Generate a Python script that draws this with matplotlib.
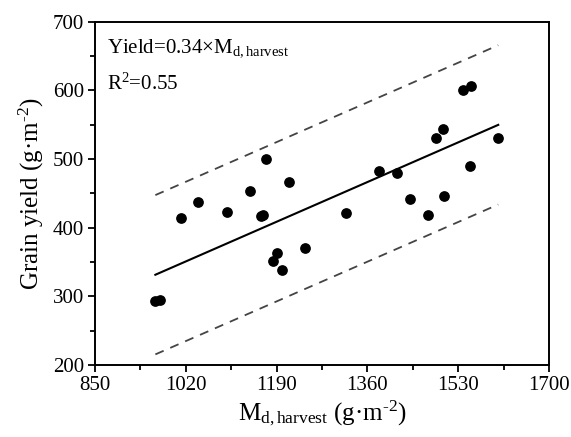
import matplotlib
matplotlib.use("Agg")
import matplotlib.pyplot as plt
import numpy as np
from matplotlib.ticker import MultipleLocator

# Data
m_harvest = [963, 972, 1011, 1042, 1098, 1141, 1161, 1165, 1171, 1213, 1191, 1183,
             1201, 1243, 1320, 1381, 1416, 1439, 1473, 1489, 1501, 1503, 1539, 1554,
             1552, 1605]
grain_yield = [293, 295, 414, 437, 423, 454, 417, 418, 500, 467, 363, 352,
               338, 370, 422, 482, 479, 442, 418, 530, 544, 446, 601, 607,
               490, 530]
slope = 0.34
intercept = 4      # as drawn in the reference
band = 116         # prediction band half-width (g m-2)
x_ticks = [850, 1020, 1190, 1360, 1530, 1700]
y_ticks = [200, 300, 400, 500, 600, 700]

plt.rcParams['font.family'] = ['Liberation Serif', 'DejaVu Serif']
plt.rcParams['mathtext.fontset'] = 'custom'
plt.rcParams['mathtext.rm'] = 'Liberation Serif'
plt.rcParams['mathtext.it'] = 'Liberation Serif:italic'

fig = plt.figure(figsize=(5.71, 4.37), dpi=100)
ax = fig.add_axes([0.1664, 0.1648, 0.795, 0.7856])

x = np.array(m_harvest)
y = np.array(grain_yield)
xl = np.array([x.min(), x.max()])
fit = slope * xl + intercept
ax.plot(xl, fit, color='black', lw=1.5)
ax.plot(xl, fit + band, color='#444444', lw=1.3, ls=(0, (5, 4)))
ax.plot(xl, fit - band, color='#444444', lw=1.3, ls=(0, (5, 4)))
ax.scatter(x, y, s=45, color='black', zorder=3)

ax.set_xlim(850, 1700)
ax.set_ylim(200, 700)
ax.set_xticks(x_ticks)
ax.set_yticks(y_ticks)
ax.xaxis.set_minor_locator(MultipleLocator(85))
ax.yaxis.set_minor_locator(MultipleLocator(50))
ax.tick_params(which='major', direction='out', length=5, width=1.3, labelsize=15, pad=3)
ax.tick_params(which='minor', direction='out', length=3.5, width=1.3)
for s in ax.spines.values():
    s.set_linewidth(1.4)

ax.set_xlabel(r'M$_{\mathrm{d,harvest}}$ (g·m$^{\text{-2}}$)', fontsize=18, labelpad=2)
ax.set_ylabel(r'Grain yield (g·m$^{\text{-2}}$)', fontsize=18, labelpad=5)

ax.text(0.026, 0.912, r'Yield=0.34×M$_{\mathrm{d,harvest}}$', transform=ax.transAxes,
        fontsize=15, va='baseline', ha='left')
ax.text(0.026, 0.801, r'R$^{\mathrm{2}}$=0.55', transform=ax.transAxes,
        fontsize=15, va='baseline', ha='left')

fig.savefig('out.png', dpi=100)
